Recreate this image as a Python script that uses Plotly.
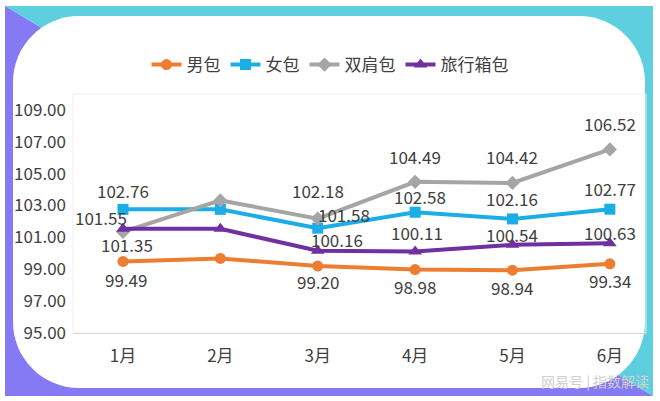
import plotly.graph_objects as go

# ---------------- data ----------------
months = ["1月", "2月", "3月", "4月", "5月", "6月"]
series_names = ["男包", "女包", "双肩包", "旅行箱包"]
men_bag = [99.49, 99.68, 99.20, 98.98, 98.94, 99.34]
women_bag = [102.76, 102.76, 101.58, 102.58, 102.16, 102.77]
backpack = [101.35, 103.32, 102.18, 104.49, 104.42, 106.52]
luggage = [101.55, 101.54, 100.16, 100.11, 100.54, 100.63]
labeled = [True, False, True, True, True, True]   # Feb labels not shown in source
y_ticks = [95, 97, 99, 101, 103, 105, 107, 109]
watermark = "网易号 | 指数解读"

# ---------------- styles ----------------
W, H = 660, 401
FONT = "Noto Sans CJK SC, Noto Sans, sans-serif"
TXT = "#404040"
colors = ["#ED7D31", "#1AADE6", "#A5A5A5", "#7030A0"]
symbols = ["circle", "square", "diamond", "triangle-up"]
values = [men_bag, women_bag, backpack, luggage]
# label offsets in px (dx right, dy down) per series per month
offsets = [
    [(3, 18), None, (0, 15), (0, 17), (0, 17), (0, 17)],
    [(0, -19), None, (26, -14), (5, -16), (0, -20), (0, -21)],
    [(4, 13), None, (0, -28), (0, -25), (0, -26), (0, -26)],
    [(-22, -11), None, (19, -11), (2, -19), (0, -10), (0, -11)],
]

def px(x):
    return x / W

def py(y):
    return 1 - y / H

fig = go.Figure()
for name, vals, c, s in zip(series_names, values, colors, symbols):
    fig.add_trace(go.Scatter(
        x=months, y=vals, name=name, mode="lines+markers",
        line=dict(color=c, width=4),
        marker=dict(symbol=s, size=11 if s != "triangle-up" else 12, color=c),
    ))

annotations = []
for vals, offs in zip(values, offsets):
    for m, v, o, show in zip(months, vals, offs, labeled):
        if not show or o is None:
            continue
        annotations.append(dict(
            x=m, y=v, xref="x", yref="y", text=f"{v:.2f}", showarrow=False,
            xshift=o[0], yshift=-o[1], font=dict(size=17, color=TXT, family=FONT),
        ))
annotations.append(dict(
    x=px(595), y=py(381), xref="paper", yref="paper", text=watermark,
    xanchor="center", yanchor="middle",
    showarrow=False, font=dict(size=14, color="#cfcfcf", family=FONT),
))

# background frame shapes
x0, y0, x1, y1 = 5, 6, 653, 396
shapes = [
    dict(type="path", xref="paper", yref="paper", layer="below", line=dict(width=0),
         fillcolor="#5ECFDF",
         path=f"M {px(x0)},{py(y0)} L {px(x1)},{py(y0)} L {px(x1)},{py(y1)} Z"),
    dict(type="path", xref="paper", yref="paper", layer="below", line=dict(width=0),
         fillcolor="#8579F4",
         path=f"M {px(x0)},{py(y0)} L {px(x1)},{py(y1)} L {px(x0)},{py(y1)} Z"),
]
cx0, cy0, cx1, cy1, r = 13, 16, 645, 388, 66
path = (
    f"M {px(cx0 + r)},{py(cy0)} L {px(cx1 - r)},{py(cy0)} "
    f"C {px(cx1 - r * 0.45)},{py(cy0)} {px(cx1)},{py(cy0 + r * 0.45)} {px(cx1)},{py(cy0 + r)} "
    f"L {px(cx1)},{py(cy1 - r)} "
    f"C {px(cx1)},{py(cy1 - r * 0.45)} {px(cx1 - r * 0.45)},{py(cy1)} {px(cx1 - r)},{py(cy1)} "
    f"L {px(cx0 + r)},{py(cy1)} "
    f"C {px(cx0 + r * 0.45)},{py(cy1)} {px(cx0)},{py(cy1 - r * 0.45)} {px(cx0)},{py(cy1 - r)} "
    f"L {px(cx0)},{py(cy0 + r)} "
    f"C {px(cx0)},{py(cy0 + r * 0.45)} {px(cx0 + r * 0.45)},{py(cy0)} {px(cx0 + r)},{py(cy0)} Z"
)
shapes.append(dict(type="path", xref="paper", yref="paper", layer="below",
                   line=dict(width=0), fillcolor="white", path=path))
# faint plot-area border
shapes.append(dict(type="rect", xref="x domain", yref="y domain", x0=0, x1=1, y0=0, y1=1,
                   layer="below", line=dict(color="#EFEFEF", width=1)))

fig.update_layout(
    width=W, height=H,
    margin=dict(l=0, r=0, t=0, b=0),
    paper_bgcolor="white", plot_bgcolor="rgba(0,0,0,0)",
    font=dict(family=FONT, size=17, color=TXT),
    showlegend=True,
    legend=dict(orientation="h", x=0.5, xanchor="center", y=py(65), yanchor="middle",
                font=dict(size=17, color=TXT), itemwidth=30, bgcolor="rgba(0,0,0,0)",
                tracegroupgap=0),
    xaxis=dict(domain=[px(73), px(646)], type="category", showgrid=False,
               showline=True, linecolor="#D9D9D9", linewidth=1, ticks="",
               ticklabelstandoff=8,
               tickfont=dict(size=17, color=TXT), fixedrange=True, automargin=False),
    yaxis=dict(domain=[py(333), py(94)], range=[95, 110], tickvals=y_ticks,
               ticktext=[f"{t:.2f}" for t in y_ticks], showgrid=False, zeroline=False,
               showline=False, ticks="", ticklabelstandoff=6,
               tickfont=dict(size=17, color=TXT), automargin=False),
    shapes=shapes,
    annotations=annotations,
)

fig.write_html("out.html")
